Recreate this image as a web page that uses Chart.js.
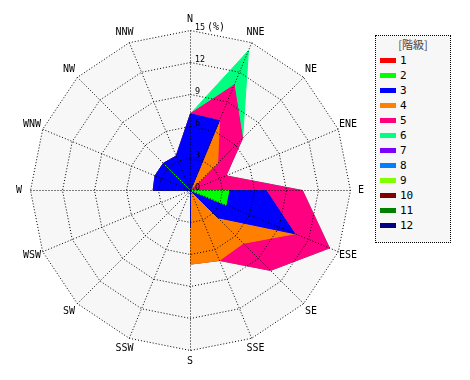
<!DOCTYPE html>
<html lang="ja">
<head>
<meta charset="utf-8">
<title>風配図</title>
<script src="https://cdn.jsdelivr.net/npm/chart.js@4.4.1/dist/chart.umd.min.js"></script>
<style>
  body { margin: 0; background: #fff; }
  #wrap { position: relative; width: 470px; height: 380px; }
  #legend {
    position: absolute; left: 375px; top: 35px;
    width: 74px; height: 206px;
    border: 1px dotted #000; background: #f7f7f7;
    font: 11px "DejaVu Sans Mono", monospace; color: #000;
  }
  #legend .title {
    height: 17px; line-height: 17px; text-align: center;
    font: 11px "Noto Sans CJK JP", sans-serif; color: #444;
  }
  #legend .item { height: 15px; line-height: 15px; white-space: nowrap; }
  #legend .sw {
    display: inline-block; width: 16px; height: 5px;
    margin: 0 4px 0 4px; vertical-align: middle; position: relative; top: -1px;
  }
</style>
</head>
<body>
<div id="wrap">
  <canvas id="windRose" width="470" height="380"></canvas>
  <div id="legend"></div>
</div>
<script>
// 16方位
const directions = ['N', 'NNE', 'NE', 'ENE', 'E', 'ESE', 'SE', 'SSE', 'S', 'SSW', 'SW', 'WSW', 'W', 'WNW', 'NW', 'NNW'];

// 階級ごとの出現率 (%)
const class1  = [0, 0, 0, 0, 0, 0, 0, 0, 0, 0, 0, 0, 0, 0, 0, 0];
const class2  = [0, 0, 0, 0, 3.6, 3.6, 0, 0, 0, 0, 0, 0, 0, 0, 3.5, 0];
const class3  = [7.2, 7.1, 0, 0, 3.5, 7.0, 3.6, 0, 3.5, 0, 0, 0, 3.5, 3.6, 0.1, 3.5];
const class4  = [0, 0, 3.6, 0, 0, 0, 3.4, 7.1, 3.4, 0, 0, 0, 0, 0, 0, 0];
const class5  = [0, 3.6, 3.3, 3.6, 3.4, 3.5, 3.6, 0, 0, 0, 0, 0, 0, 0, 0, 0];
const class6  = [0, 3.5, 0, 0, 0, 0, 0, 0, 0, 0, 0, 0, 0, 0, 0, 0];
const class7  = [0, 0, 0, 0, 0, 0, 0, 0, 0, 0, 0, 0, 0, 0, 0, 0];
const class8  = [0, 0, 0, 0, 0, 0, 0, 0, 0, 0, 0, 0, 0, 0, 0, 0];
const class9  = [0, 0, 0, 0, 0, 0, 0, 0, 0, 0, 0, 0, 0, 0, 0, 0];
const class10 = [0, 0, 0, 0, 0, 0, 0, 0, 0, 0, 0, 0, 0, 0, 0, 0];
const class11 = [0, 0, 0, 0, 0, 0, 0, 0, 0, 0, 0, 0, 0, 0, 0, 0];
const class12 = [0, 0, 0, 0, 0, 0, 0, 0, 0, 0, 0, 0, 0, 0, 0, 0];

const classLabels = ['1', '2', '3', '4', '5', '6', '7', '8', '9', '10', '11', '12'];
const classColors = ['#ff0000', '#00ff00', '#0000ff', '#ff8000', '#ff0080', '#00ff80',
                     '#8000ff', '#0080ff', '#80ff00', '#800000', '#008000', '#000080'];

// 目盛
const tickValues = [0, 3, 6, 9, 12, 15];
const rMax = 15;
const plotBg = '#f7f7f7';

const allClasses = [class1, class2, class3, class4, class5, class6,
                    class7, class8, class9, class10, class11, class12];

// 積み上げ (階級1が一番内側)
function buildDatasets() {
    const running = directions.map(() => 0);
    const sets = [];
    allClasses.forEach((values, k) => {
        values.forEach((v, i) => { running[i] += v; });
        if (values.some(v => v > 0)) {
            sets.push({
                label: classLabels[k],
                data: running.slice(),
                backgroundColor: classColors[k],
                borderColor: classColors[k],
                borderWidth: 1,
                pointRadius: 0,
                fill: true
            });
        }
    });
    return sets;
}

// 背景、目盛ラベル、方位ラベル
const windRoseDecor = {
    id: 'windRoseDecor',
    beforeDraw(chart) {
        chart.ctx.save();
        chart.ctx.translate(0.5, 0.5);
    },
    beforeDatasetsDraw(chart) {
        const scale = chart.scales.r;
        const ctx = chart.ctx;
        ctx.beginPath();
        directions.forEach((d, i) => {
            const p = scale.getPointPositionForValue(i, rMax);
            if (i === 0) ctx.moveTo(p.x, p.y); else ctx.lineTo(p.x, p.y);
        });
        ctx.closePath();
        ctx.fillStyle = plotBg;
        ctx.fill();
    },
    afterDraw(chart) {
        const scale = chart.scales.r;
        const ctx = chart.ctx;
        ctx.restore();
        ctx.save();
        ctx.fillStyle = '#000';

        // 方位
        ctx.font = '10px "DejaVu Sans Mono", monospace';
        ctx.textAlign = 'center';
        ctx.textBaseline = 'middle';
        directions.forEach((d, i) => {
            const p = scale.getPointPosition(i, scale.drawingArea + 11);
            ctx.fillText(d, p.x, p.y);
        });

        // 目盛
        ctx.textAlign = 'left';
        ctx.textBaseline = 'alphabetic';
        ctx.font = '8px "DejaVu Sans", sans-serif';
        tickValues.forEach(v => {
            const y = scale.yCenter - scale.getDistanceFromCenterForValue(v);
            const x = scale.xCenter + 5;
            ctx.fillText(String(v), x, y);
            if (v === rMax) {
                ctx.font = '10px "DejaVu Sans Mono", monospace';
                ctx.fillText('(%)', x + 12, y);
                ctx.font = '8px "DejaVu Sans", sans-serif';
            }
        });
        ctx.restore();
    }
};

function createChart() {
    const ctx = document.getElementById('windRose').getContext('2d');
    new Chart(ctx, {
        type: 'radar',
        data: {
            labels: directions,
            datasets: buildDatasets()
        },
        options: {
            responsive: false,
            animation: false,
            layout: { padding: { left: 30, right: 120, top: 30, bottom: 30 } },
            plugins: {
                legend: { display: false },
                tooltip: { enabled: false }
            },
            elements: { line: { tension: 0 } },
            scales: {
                r: {
                    min: 0,
                    max: rMax,
                    ticks: { display: false, stepSize: 3 },
                    pointLabels: { display: false },
                    grid: { color: '#000', lineWidth: 1, z: 1 },
                    border: { dash: [1, 2] },
                    angleLines: { color: '#000', lineWidth: 1, borderDash: [1, 2] }
                }
            }
        },
        plugins: [windRoseDecor]
    });
}

// 凡例
function buildLegend() {
    const box = document.getElementById('legend');
    let html = '<div class="title">[階級]</div>';
    classLabels.forEach((lab, k) => {
        html += '<div class="item"><span class="sw" style="background:' + classColors[k] + '"></span>' + lab + '</div>';
    });
    box.innerHTML = html;
}

buildLegend();
createChart();
</script>
</body>
</html>
